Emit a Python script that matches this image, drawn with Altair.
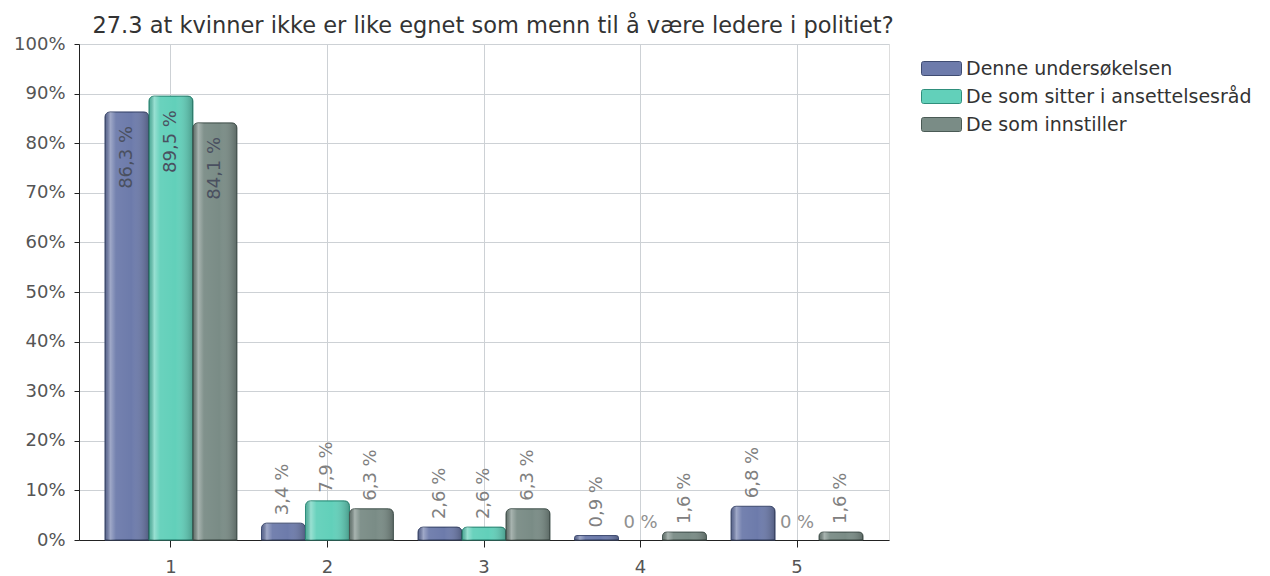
import altair as alt
import pandas as pd

categories = ["1", "2", "3", "4", "5"]
series = ["Denne undersøkelsen", "De som sitter i ansettelsesråd", "De som innstiller"]
denne = [86.3, 3.4, 2.6, 0.9, 6.8]
ansettelsesrad = [89.5, 7.9, 2.6, 0.0, 0.0]
innstiller = [84.1, 6.3, 6.3, 1.6, 1.6]
colors = ["#6d7bab", "#62d0ba", "#7a8c86"]
strokes = ["#3f4c72", "#2f8f7c", "#4a5a55"]
y_ticks = [0, 10, 20, 30, 40, 50, 60, 70, 80, 90, 100]
title_text = "27.3 at kvinner ikke er like egnet som menn til å være ledere i politiet?"

rows = []
for s, vals in zip(series, [denne, ansettelsesrad, innstiller]):
    for c, v in zip(categories, vals):
        lab = (f"{v:g}".replace(".", ",")) + " %"
        rows.append({"kat": c, "serie": s, "verdi": v, "etikett": lab})
df = pd.DataFrame(rows)

FONT = "DejaVu Sans"

x_enc = alt.X("kat:N", sort=categories, title=None,
              scale=alt.Scale(paddingInner=0.157, paddingOuter=0.166),
              axis=alt.Axis(labelAngle=0, bandPosition=0.5, grid=True, gridColor="#cdd1d5",
                            domainColor="#222", tickColor="#222", tickSize=7,
                            labelFontSize=18, labelColor="#555", labelFont=FONT, labelPadding=11))
xo_enc = alt.XOffset("serie:N", sort=series, scale=alt.Scale(domain=series, paddingInner=0, paddingOuter=0))
y_enc = alt.Y("verdi:Q", title=None,
              scale=alt.Scale(domain=[0, 100], nice=False),
              axis=alt.Axis(values=y_ticks, labelExpr="datum.value + '%'", grid=True, gridColor="#cdd1d5",
                            domainColor="#222", tickColor="#222", tickSize=5,
                            labelFontSize=18, labelColor="#555", labelFont=FONT, labelPadding=9))

base = alt.Chart(df)

rounded_rect = ("M-1.8,-0.7H1.8A0.2,0.2 0 0 1 2,-0.5V0.5A0.2,0.2 0 0 1 1.8,0.7"
                "H-1.8A0.2,0.2 0 0 1 -2,0.5V-0.5A0.2,0.2 0 0 1 -1.8,-0.7Z")

bars = base.transform_filter("datum.verdi > 0").mark_bar(
    cornerRadiusTopLeft=5, cornerRadiusTopRight=5, strokeWidth=1).encode(
    x=x_enc, xOffset=xo_enc, y=y_enc,
    color=alt.Color("serie:N", sort=series, title=None,
                    scale=alt.Scale(domain=series, range=colors),
                    legend=alt.Legend(orient="none", legendX=852, legendY=14,
                                      symbolType=rounded_rect, symbolSize=400,
                                      symbolStrokeWidth=1, symbolStrokeColor="#444",
                                      labelFontSize=19, labelFont=FONT, labelColor="#333",
                                      rowPadding=7, labelOffset=14, labelLimit=400)),
    stroke=alt.Stroke("serie:N", sort=series, scale=alt.Scale(domain=series, range=strokes), legend=None),
)

shade = base.transform_filter("datum.verdi > 0").mark_bar(
    cornerRadiusTopLeft=5, cornerRadiusTopRight=5,
    fill=alt.Gradient(gradient="linear", x1=0, x2=1, y1=0, y2=0, stops=[
        alt.GradientStop(offset=0, color="rgba(0,0,0,0.15)"),
        alt.GradientStop(offset=0.12, color="rgba(255,255,255,0.35)"),
        alt.GradientStop(offset=0.25, color="rgba(255,255,255,0.05)"),
        alt.GradientStop(offset=0.6, color="rgba(255,255,255,0)"),
        alt.GradientStop(offset=1, color="rgba(0,0,0,0.25)"),
    ])
).encode(x=x_enc, xOffset=xo_enc, y=y_enc)

inside = base.transform_filter("datum.verdi >= 50").mark_text(
    angle=270, align="right", baseline="middle", dx=-14, fontSize=18, font=FONT, color="#4a5060"
).encode(x=x_enc, xOffset=xo_enc, y=y_enc, text="etikett:N")

outside = base.transform_filter("datum.verdi > 0 && datum.verdi < 50").mark_text(
    angle=270, align="left", baseline="middle", dx=8, fontSize=18, font=FONT, color="#808080"
).encode(x=x_enc, xOffset=xo_enc, y=y_enc, text="etikett:N")

zero = base.transform_filter("datum.verdi == 0").mark_text(
    angle=0, align="center", baseline="bottom", dy=-8, fontSize=18, font=FONT, color="#909090"
).encode(x=x_enc, xOffset=xo_enc, y=y_enc, text="etikett:N")

chart = alt.layer(bars, shade, inside, outside, zero).properties(
    width=810, height=496,
    padding={"top": 6, "left": 5, "right": 5, "bottom": 0},
    title=alt.TitleParams(title_text, fontSize=22.5, font=FONT, color="#333", fontWeight="normal",
                          anchor="middle", frame="group", offset=-2, dx=9),
).configure_view(fill="#e8eaed", stroke="#8a8a8a", strokeWidth=1).configure(background="white")

chart.save("out.html", embed_options={"renderer": "svg", "actions": False})
